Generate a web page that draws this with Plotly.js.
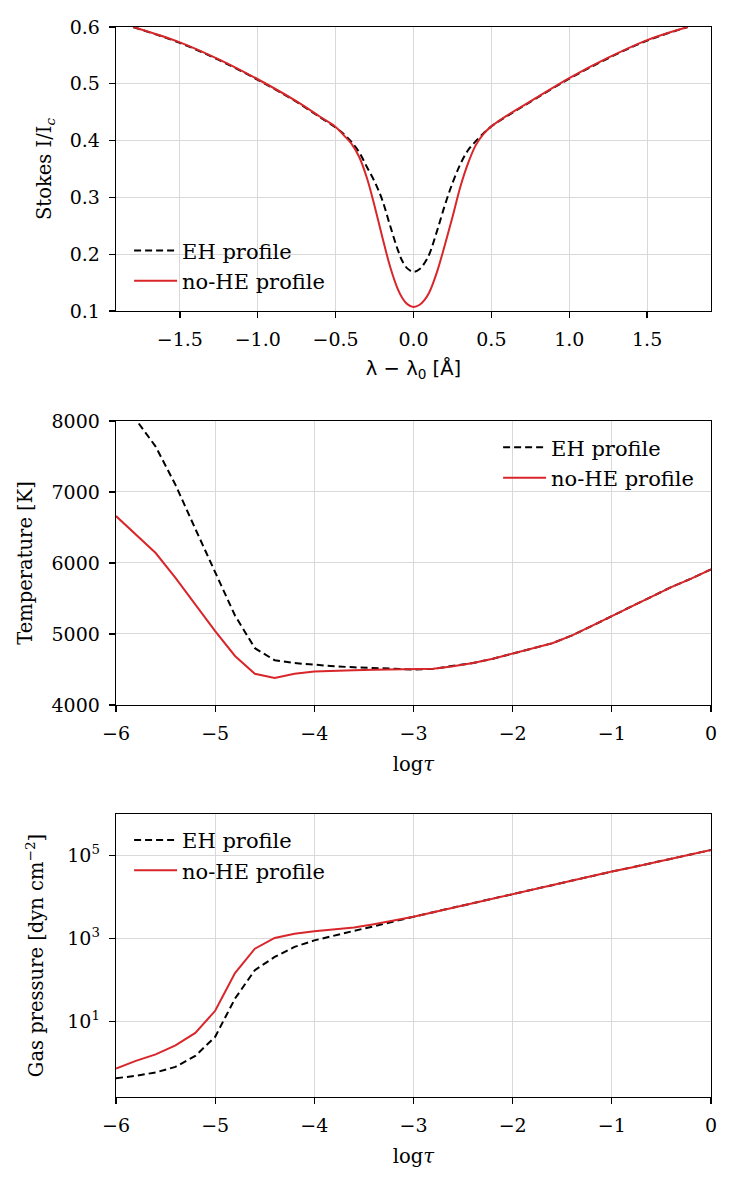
<!DOCTYPE html>
<html>
<head>
<meta charset="utf-8">
<script src="https://cdn.plot.ly/plotly-3.0.1.min.js"></script>
<style>html,body{margin:0;padding:0;background:#fff;}#chart{width:738px;height:1184px;}</style>
</head>
<body>
<div id="chart"></div>
<script>
// ---- Panel 1: Stokes I profiles ----
const wavelength = [-1.80,-1.50,-1.25,-1.00,-0.75,-0.60,-0.50,-0.45,-0.40,-0.35,-0.30,-0.25,-0.20,-0.15,-0.10,-0.07,-0.04,0.00,0.04,0.07,0.10,0.15,0.20,0.25,0.30,0.35,0.40,0.45,0.50,0.60,0.75,1.00,1.25,1.50,1.76];
const stokesEH = [0.600,0.572,0.542,0.507,0.468,0.441,0.423,0.412,0.398,0.380,0.354,0.328,0.295,0.250,0.207,0.187,0.175,0.169,0.174,0.184,0.199,0.240,0.285,0.325,0.358,0.383,0.399,0.413,0.425,0.443,0.468,0.509,0.545,0.576,0.600];
const stokesNoHE = [0.600,0.573,0.543,0.508,0.469,0.442,0.424,0.410,0.395,0.372,0.335,0.285,0.230,0.178,0.138,0.122,0.112,0.107,0.111,0.119,0.132,0.168,0.215,0.265,0.318,0.360,0.392,0.412,0.425,0.444,0.469,0.510,0.546,0.577,0.600];

// ---- Panels 2 & 3: atmospheres vs log tau ----
const logTau = [-6.0,-5.8,-5.6,-5.4,-5.2,-5.0,-4.8,-4.6,-4.4,-4.2,-4.0,-3.8,-3.6,-3.4,-3.2,-3.0,-2.8,-2.6,-2.4,-2.2,-2.0,-1.8,-1.6,-1.4,-1.2,-1.0,-0.8,-0.6,-0.4,-0.2,0.0];
const tempEH = [8300,8020,7640,7100,6480,5870,5260,4800,4630,4590,4565,4545,4530,4518,4508,4500,4510,4545,4590,4650,4720,4790,4870,4980,5110,5250,5390,5530,5660,5780,5910];
const tempNoHE = [6660,6400,6140,5790,5410,5040,4690,4440,4380,4440,4470,4485,4490,4495,4498,4500,4510,4545,4590,4650,4720,4790,4870,4980,5110,5250,5390,5530,5660,5780,5910];
const presEH = [0.42,0.48,0.58,0.79,1.45,4.2,35,170,355,620,890,1175,1510,1950,2570,3310,4270,5500,7080,9120,11750,15100,19500,24500,31600,40700,51300,66000,83000,107000,135000];
const presNoHE = [0.72,1.1,1.58,2.6,5.2,17.8,145,560,1020,1290,1480,1620,1820,2190,2690,3310,4270,5500,7080,9120,11750,15100,19500,24500,31600,40700,51300,66000,83000,107000,135000];

const labelEH = 'EH profile';
const labelNoHE = 'no-HE profile';
const pTicks = [10, 1000, 100000];
const pTickText = ['10<sup>1</sup>', '10<sup>3</sup>', '10<sup>5</sup>'];

const RED = '#d8262a';
const serif = 'DejaVu Serif';
const dashEH = {color:'black', width:2, dash:'7px,4px'};
const solidRed = {color:RED, width:2};

const traces = [
  {x:wavelength, y:stokesEH, name:labelEH, mode:'lines', line:Object.assign({shape:'spline', smoothing:1}, dashEH), xaxis:'x', yaxis:'y', legend:'legend'},
  {x:wavelength, y:stokesNoHE, name:labelNoHE, mode:'lines', line:Object.assign({shape:'spline', smoothing:1}, solidRed), xaxis:'x', yaxis:'y', legend:'legend'},
  {x:logTau, y:tempEH, name:labelEH, mode:'lines', line:dashEH, xaxis:'x2', yaxis:'y2', legend:'legend2'},
  {x:logTau, y:tempNoHE, name:labelNoHE, mode:'lines', line:solidRed, xaxis:'x2', yaxis:'y2', legend:'legend2'},
  {x:logTau, y:presEH, name:labelEH, mode:'lines', line:dashEH, xaxis:'x3', yaxis:'y3', legend:'legend3'},
  {x:logTau, y:presNoHE, name:labelNoHE, mode:'lines', line:solidRed, xaxis:'x3', yaxis:'y3', legend:'legend3'}
];

function ax(extra){
  return Object.assign({
    showline:true, linecolor:'black', linewidth:1.3, mirror:true,
    ticks:'outside', ticklen:6, tickwidth:1.3, tickcolor:'black',
    showgrid:true, gridcolor:'#d9d9d9', gridwidth:1, zeroline:false,
    ticklabelstandoff:5,
    tickfont:{family:serif, size:19, color:'black'}
  }, extra);
}
function ttl(text, family, standoff){
  return {text:text, font:{family:family, size:19.5, color:'black'}, standoff:standoff};
}
const legFont = {family:serif, size:21, color:'black'};
function leg(x, y, xanchor){
  return {x:x, y:y, xanchor:xanchor, yanchor:'top', xref:'paper', yref:'paper', itemwidth:43,
          bgcolor:'rgba(0,0,0,0)', borderwidth:0, font:legFont, tracegroupgap:0};
}

const layout = {
  width:738, height:1184,
  margin:{l:116, r:27, t:27, b:87},
  paper_bgcolor:'white', plot_bgcolor:'white',
  showlegend:true,
  xaxis: ax({domain:[0,1], anchor:'y', range:[-1.91,1.91], tickvals:[-1.5,-1,-0.5,0,0.5,1,1.5], tickformat:'.1f',
             title:ttl('λ − λ<sub>0</sub> [Å]', 'DejaVu Sans', 12)}),
  yaxis: ax({domain:[0.7346,1], anchor:'x', range:[0.1,0.6], dtick:0.1, tickformat:'.1f',
             title:ttl('Stokes I/I<sub><i>c</i></sub>', serif, 13)}),
  xaxis2: ax({domain:[0,1], anchor:'y2', range:[-6,0], dtick:1,
             title:ttl('log<i>τ</i>', serif, 14)}),
  yaxis2: ax({domain:[0.3664,0.6318], anchor:'x2', range:[4000,8000], dtick:1000,
             title:ttl('Temperature [K]', serif, 13)}),
  xaxis3: ax({domain:[0,1], anchor:'y3', range:[-6,0], dtick:1,
             title:ttl('log<i>τ</i>', serif, 14)}),
  yaxis3: ax({domain:[0,0.2645], anchor:'x3', type:'log', range:[-0.83,6.0], tickvals:pTicks, ticktext:pTickText,
             title:ttl('Gas pressure [dyn cm<sup>−2</sup>]', serif, 18)}),
  legend: leg(0.022, 0.810, 'left'),
  legend2: leg(0.98, 0.626, 'right'),
  legend3: leg(0.022, 0.259, 'left')
};

Plotly.newPlot('chart', traces, layout, {displayModeBar:false, staticPlot:true});
</script>
</body>
</html>
